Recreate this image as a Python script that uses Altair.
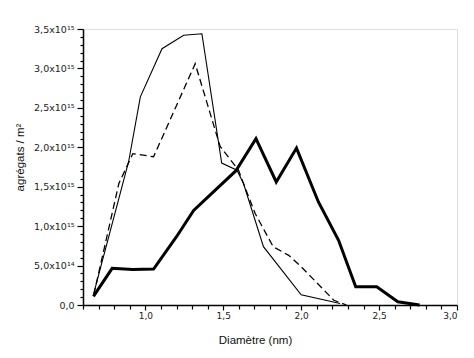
import altair as alt
import pandas as pd

# Diameter (nm) and aggregates per m^2 (in units of 1e15)
thick_x = [0.667, 0.787, 0.92, 1.053, 1.20, 1.31, 1.58, 1.71, 1.84, 1.97, 2.11, 2.24, 2.35, 2.485, 2.62, 2.76]
thick_y = [0.11, 0.465, 0.45, 0.456, 0.866, 1.20, 1.70, 2.11, 1.56, 1.99, 1.31, 0.82, 0.23, 0.23, 0.04, 0.0]

thin_x = [0.669, 0.893, 0.968, 1.107, 1.246, 1.363, 1.49, 1.588, 1.63, 1.758, 2.0, 2.25]
thin_y = [0.148, 1.82, 2.64, 3.25, 3.42, 3.44, 1.80, 1.71, 1.54, 0.74, 0.13, 0.02]

dash_x = [0.669, 0.83, 0.92, 1.053, 1.32, 1.48, 1.598, 1.63, 1.705, 1.82, 1.92, 2.0, 2.21, 2.29]
dash_y = [0.13, 1.54, 1.92, 1.88, 3.06, 2.01, 1.71, 1.54, 1.16, 0.74, 0.63, 0.485, 0.06, 0.0]

x_ticks = [round(0.6 + 0.1 * i, 1) for i in range(25)]
y_ticks = [round(0.1 * i, 1) for i in range(36)]


def frame(xs, ys):
    return pd.DataFrame({"x": xs, "y": ys, "i": list(range(len(xs)))})


MAJOR = "abs(datum.value*2 - round(datum.value*2)) < 0.001"

x_enc = alt.X(
    "x:Q",
    scale=alt.Scale(domain=[0.6, 3.0], nice=False, zero=False),
    axis=alt.Axis(
        title="Diamètre (nm)",
        values=x_ticks,
        grid=False,
        domainColor="black",
        tickColor="black",
        domainWidth=1.5,
        tickWidth=1.2,
        tickSize={"condition": {"test": MAJOR, "value": 5}, "value": 4},
        labelExpr=MAJOR + " ? replace(format(datum.value, '.1f'), '.', ',') : ''",
        labelFont="DejaVu Sans",
        labelFontSize=9,
        labelColor="#222",
        labelPadding=1,
        labelOverlap=False,
        titleFont="Liberation Sans",
        titleFontSize=11.5,
        titleFontWeight="normal",
        titleColor="#111",
        titleX=172,
        titleY=40,
        titleAlign="center",
        titleBaseline="bottom",
    ),
)

y_label = (
    MAJOR + " ? "
    "(datum.value == 0 ? '0,0' : (abs(datum.value - 0.5) < 0.001 ? '5,0x10¹⁴' : "
    "replace(format(datum.value, '.1f'), '.', ',') + 'x10¹⁵')) : ''"
)

y_enc = alt.Y(
    "y:Q",
    scale=alt.Scale(domain=[0, 3.5], nice=False),
    axis=alt.Axis(
        title="agrégats / m²",
        values=y_ticks,
        grid=False,
        domainColor="black",
        tickColor="black",
        domainWidth=1.5,
        tickWidth=1.2,
        tickSize={"condition": {"test": MAJOR, "value": 6}, "value": 3},
        labelExpr=y_label,
        labelFont="DejaVu Sans",
        labelFontSize=9.5,
        labelColor="#222",
        labelPadding=3,
        labelOverlap=False,
        titleFont="Liberation Sans",
        titleFontSize=11.5,
        titleFontWeight="normal",
        titleColor="#111",
        titleX=-63,
        titleY=128,
        titleAlign="center",
        titleBaseline="middle",
    ),
)

thick = alt.Chart(frame(thick_x, thick_y)).mark_line(color="black", strokeWidth=3, strokeJoin="miter").encode(
    x=x_enc, y=y_enc, order="i:Q"
)
thin = alt.Chart(frame(thin_x, thin_y)).mark_line(color="black", strokeWidth=1.1).encode(
    x=x_enc, y=y_enc, order="i:Q"
)
dashed = alt.Chart(frame(dash_x, dash_y)).mark_line(color="black", strokeWidth=1.3, strokeDash=[7, 4]).encode(
    x=x_enc, y=y_enc, order="i:Q"
)

chart = (
    alt.layer(thin, dashed, thick)
    .properties(
        width=374,
        height=276,
        autosize=alt.AutoSizeParams(type="none"),
        padding={"left": 75, "top": 21, "right": 9, "bottom": 45},
    )
    .configure_view(stroke=None)
    .configure(background="white")
)

chart.save("out.html", embed_options={"renderer": "svg", "actions": False})
